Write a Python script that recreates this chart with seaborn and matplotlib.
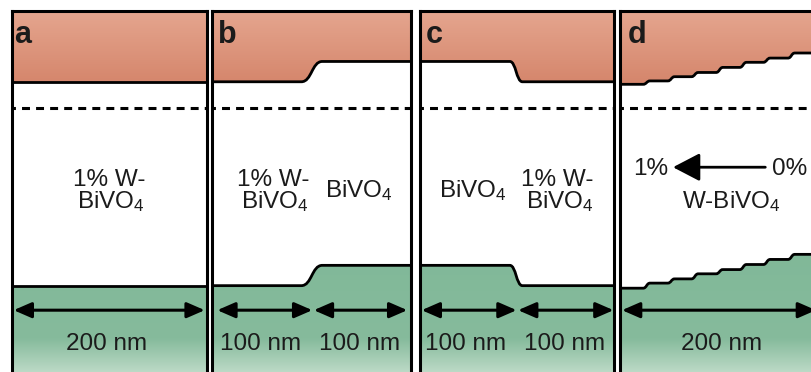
import numpy as np
import pandas as pd
import matplotlib
matplotlib.use("Agg")
import matplotlib.pyplot as plt
from matplotlib.path import Path
from matplotlib.patches import PathPatch, ArrowStyle
from matplotlib.colors import LinearSegmentedColormap
import seaborn as sns

# ---------------------------------------------------------------------------
# Band-edge data: energies in eV relative to the Fermi level, depth in nm
# ---------------------------------------------------------------------------
film_thickness = 200
fermi_level = 0.0
panel_labels = ["a", "b", "c", "d"]

# interface depths (nm) and the flat band level of each layer between them
a_interfaces = []
a_cb = [0.31]
a_vb = [-2.10]

b_interfaces = [100]
b_cb = [0.31, 0.55]
b_vb = [-2.10, -1.86]

c_interfaces = [99]
c_cb = [0.55, 0.31]
c_vb = [-1.86, -2.10]

d_interfaces = [27, 52, 76, 101, 125, 149, 174]
d_cb = [0.28, 0.32, 0.37, 0.42, 0.48, 0.54, 0.59, 0.65]
d_vb = [-2.13, -2.07, -2.02, -1.96, -1.91, -1.85, -1.79, -1.73]

# width (nm) of the smooth band bending at every interface
transition_widths = [0, 21, 13, 7]

# layer thickness annotations
a_thickness = ["200 nm"]
b_thickness = ["100 nm", "100 nm"]
c_thickness = ["100 nm", "100 nm"]
d_thickness = ["200 nm"]

interfaces = [a_interfaces, b_interfaces, c_interfaces, d_interfaces]
cb_levels = [a_cb, b_cb, c_cb, d_cb]
vb_levels = [a_vb, b_vb, c_vb, d_vb]
thickness_labels = [a_thickness, b_thickness, c_thickness, d_thickness]

# ---------------------------------------------------------------------------
# Style
# ---------------------------------------------------------------------------
sns.set_theme(style="white")
plt.rcParams["font.family"] = ["Liberation Sans", "DejaVu Sans"]
plt.rcParams["mathtext.fontset"] = "custom"
plt.rcParams["mathtext.rm"] = "Liberation Sans"
plt.rcParams["mathtext.it"] = "Liberation Sans:italic"
plt.rcParams["mathtext.bf"] = "Liberation Sans:bold"

INK = "#1b1b1b"
BODY_SIZE = 17.5
LETTER_SIZE = 22
SPINE_LW = 2.2
EDGE_LW = 2.0

cb_colors = ["#d4846a", "#e5a68f"]                       # bottom -> top
vb_colors = [(0.0, "#c2ddcb"), (0.28, "#86bb9c"), (1.0, "#80b898")]

W, H = 812, 372
panel_px = [(11.7, 206.7), (212.3, 411.3), (419.7, 614.5), (620.0, 817.0)]
top_px, bottom_px = 10.5, 376.0
E_TOP, E_BOT = 1.1525, -3.168

fig = plt.figure(figsize=(W / 100, H / 100), dpi=100)
fig.patch.set_facecolor("white")


def edge_path(levels, cuts, width, x0=-3, x1=film_thickness + 3):
    """Band edge as flat segments joined by smooth S-shaped bends."""
    verts = [(x0, levels[0])]
    codes = [Path.MOVETO]
    for x, lo, hi in zip(cuts, levels[:-1], levels[1:]):
        verts += [(x - width / 2, lo), (x, lo), (x, hi), (x + width / 2, hi)]
        codes += [Path.LINETO, Path.CURVE4, Path.CURVE4, Path.CURVE4]
    verts.append((x1, levels[-1]))
    codes.append(Path.LINETO)
    return verts, codes


def gradient_region(ax, verts, codes, close_y, colors, extent):
    region = verts + [(verts[-1][0], close_y), (verts[0][0], close_y), verts[0]]
    region_codes = codes + [Path.LINETO, Path.LINETO, Path.CLOSEPOLY]
    clip = PathPatch(Path(region, region_codes), facecolor="none",
                     edgecolor="none", transform=ax.transData)
    ax.add_patch(clip)
    cmap = LinearSegmentedColormap.from_list("band", colors)
    img = ax.imshow(np.linspace(0, 1, 256)[:, None], cmap=cmap,
                    extent=extent, aspect="auto", origin="lower",
                    interpolation="bilinear", zorder=1)
    img.set_clip_path(clip)


axes = []
for i, (x0, x1) in enumerate(panel_px):
    ax = fig.add_axes([x0 / W, 1 - bottom_px / H, (x1 - x0) / W,
                       (bottom_px - top_px) / H])
    axes.append(ax)

    width = transition_widths[i]
    cb_v, cb_c = edge_path(cb_levels[i], interfaces[i], width)
    vb_v, vb_c = edge_path(vb_levels[i], interfaces[i], width)

    gradient_region(ax, cb_v, cb_c, E_TOP + 0.2, cb_colors,
                    (-5, film_thickness + 5, 0.25, E_TOP))
    gradient_region(ax, vb_v, vb_c, E_BOT - 0.2, vb_colors,
                    (-5, film_thickness + 5, E_BOT, -1.6))

    for v, c in ((cb_v, cb_c), (vb_v, vb_c)):
        ax.add_patch(PathPatch(Path(v, c), fill=False, edgecolor="black",
                               lw=EDGE_LW, zorder=3, capstyle="butt"))

    # Fermi level
    fermi = pd.DataFrame({"depth": [-3, film_thickness + 3],
                          "energy": [fermi_level, fermi_level]})
    sns.lineplot(data=fermi, x="depth", y="energy", ax=ax, color="black",
                 lw=SPINE_LW, linestyle=(0.5, (2.6, 2.0)), zorder=2)

    ax.set_xlim(0, film_thickness)
    ax.set_ylim(E_BOT, E_TOP)
    ax.set_xticks([])
    ax.set_yticks([])
    ax.set_xlabel("")
    ax.set_ylabel("")
    for sp in ax.spines.values():
        sp.set_color("black")
        sp.set_linewidth(SPINE_LW)
        sp.set_zorder(5)
    ax.set_facecolor("white")

letter_x = [2.1, 5.8, 5.7, 8.0]
for ax, lab, lx in zip(axes, panel_labels, letter_x):
    ax.text(lx, 0.765, lab, fontsize=LETTER_SIZE, fontweight="bold",
            color=INK, ha="left", va="baseline", zorder=6)

BIVO4 = r"BiVO$_\mathregular{4}$"
text_kw = dict(fontsize=BODY_SIZE, color=INK, va="baseline", zorder=6)

ax_a, ax_b, ax_c, ax_d = axes
ax_a.text(100, -0.92, "1% W-", ha="center", **text_kw)
ax_a.text(102, -1.18, BIVO4, ha="center", **text_kw)

ax_b.text(61.5, -0.92, "1% W-", ha="center", **text_kw)
ax_b.text(62.5, -1.18, BIVO4, ha="center", **text_kw)
ax_b.text(147, -1.05, BIVO4, ha="center", **text_kw)

ax_c.text(55, -1.05, BIVO4, ha="center", **text_kw)
ax_c.text(141.5, -0.92, "1% W-", ha="center", **text_kw)
ax_c.text(143.5, -1.18, BIVO4, ha="center", **text_kw)

ax_d.text(48.5, -0.79, "1%", ha="right", **text_kw)
ax_d.text(154.5, -0.79, "0%", ha="left", **text_kw)
ax_d.text(113, -1.18, "W-" + BIVO4, ha="center", **text_kw)
ax_d.annotate("", xy=(53.8, -0.70), xytext=(147.5, -0.70),
              arrowprops=dict(arrowstyle=ArrowStyle("-|>", head_length=16.5,
                                                    head_width=8.6),
                              mutation_scale=1, lw=2.0, color="black",
                              shrinkA=0, shrinkB=0),
              zorder=6)

# layer thickness arrows and labels
arrow_spans = [[(2.0, 198.0)],
               [(5.0, 100.5), (102.0, 196.0)],
               [(2.0, 99.5), (101.0, 199.0)],
               [(2.0, 199.0)]]
label_x = [[97], [49, 148], [47, 149], [103]]
dim_style = ArrowStyle("<|-|>", head_length=10.8, head_width=4.7)
for ax, spans, xs, labels in zip(axes, arrow_spans, label_x, thickness_labels):
    for (s0, s1), lx, lab in zip(spans, xs, labels):
        ax.annotate("", xy=(s1, -2.39), xytext=(s0, -2.39),
                    arrowprops=dict(arrowstyle=dim_style, mutation_scale=1,
                                    lw=SPINE_LW, color="black",
                                    shrinkA=0, shrinkB=0),
                    zorder=6)
        ax.text(lx, -2.86, lab, ha="center", **text_kw)

fig.savefig("out.png", dpi=100, facecolor="white")
